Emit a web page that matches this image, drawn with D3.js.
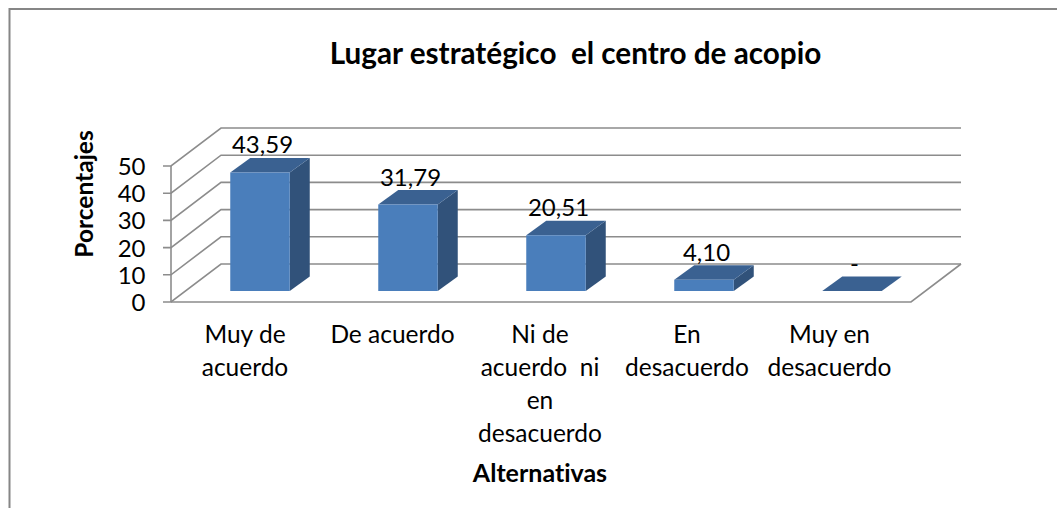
<!DOCTYPE html>
<html><head><meta charset="utf-8"><script src="https://cdn.jsdelivr.net/npm/d3@7"></script>
<style>html,body{margin:0;padding:0;background:#fff}svg{display:block}text{font-family:Lato,"Open Sans",sans-serif;fill:#000;font-variant-ligatures:none}</style></head>
<body><svg id="c" width="1057" height="508"></svg>
<script>
const categories=[["Muy de","acuerdo"],["De acuerdo"],["Ni de","acuerdo  ni","en","desacuerdo"],["En","desacuerdo"],["Muy en","desacuerdo"]];
const values=[43.59,31.79,20.51,4.10,0];
const valueLabels=["43,59","31,79","20,51","4,10","-"];
const yTicks=[0,10,20,30,40,50];
const titleText="Lugar estratégico  el centro de acopio";
const xTitle="Alternativas";
const yTitle="Porcentajes";

const svg=d3.select("#c");
const grid="#8c8c8c";
svg.append("path").attr("d",d3.line()([[9.5,508],[9.5,9],[1057,9]])).attr("fill","none").attr("stroke","#868686").attr("stroke-width",2);

const x0=171,x1=911,backX=50,backY=-38;
const y=d3.scaleLinear().domain([0,50]).range([302,166]);
const x=d3.scaleBand().domain(d3.range(5)).range([x0,x1]);
const barW=59.5, depthX=20, depthY=14.5, floorLift=11;
const barX=i=>x(i)+x.bandwidth()/2+15-barW/2;

const gg=svg.append("g").attr("fill","none").attr("stroke",grid).attr("stroke-width",1.6);
yTicks.forEach(t=>{
  const yy=y(t);
  gg.append("path").attr("d",d3.line()([[x0-8,yy],[x0,yy],[x0+backX,yy+backY],[x1+backX,yy+backY]]));
});
gg.append("path").attr("d",d3.line()([[x0,y(0)],[x1,y(0)],[x1+backX,y(0)+backY]]));
gg.append("path").attr("d",d3.line()([[x0,y(0)],[x0,y(50)]]));

const bars=svg.append("g");
values.forEach((v,i)=>{
  const l=barX(i),r=l+barW,b=y(0)-floorLift,t=b-(y(0)-y(v));
  const poly=(pts,f)=>bars.append("path").attr("d",d3.line()(pts)+"Z").attr("fill",f);
  poly([[r,t],[r+depthX,t-depthY],[r+depthX,b-depthY],[r,b]],"#31527a");
  poly([[l,t],[r,t],[r+depthX,t-depthY],[l+depthX,t-depthY]],"#3a6191");
  if(v>0) poly([[l,t],[r,t],[r,b],[l,b]],"#4a7ebb");
  svg.append("text").attr("x",l+barW/2+2.5).attr("y",t-depthY-4.5).attr("text-anchor","middle").attr("font-size",24).text(valueLabels[i]);
});

svg.selectAll(".yt").data(yTicks).join("text").attr("x",145.5).attr("y",d=>y(d)+9).attr("text-anchor","end").attr("font-size",24).text(d=>d);

const labelCx=[245,392.5,540,687,829.5];
categories.forEach((lines,i)=>{
  lines.forEach((s,j)=>{
    svg.append("text").attr("x",labelCx[i]).attr("y",343+j*33).attr("text-anchor","middle").attr("font-size",24.5).style("white-space","pre").text(s);
  });
});
svg.append("text").attr("x",575.5).attr("y",64).attr("text-anchor","middle").attr("font-size",29.7).attr("font-weight",700).style("white-space","pre").text(titleText);
svg.append("text").attr("x",540).attr("y",482).attr("text-anchor","middle").attr("font-size",25).attr("font-weight",700).text(xTitle);
svg.append("text").attr("transform","translate(93,194) rotate(-90)").attr("text-anchor","middle").attr("font-size",24.5).attr("font-weight",700).text(yTitle);
</script></body></html>
